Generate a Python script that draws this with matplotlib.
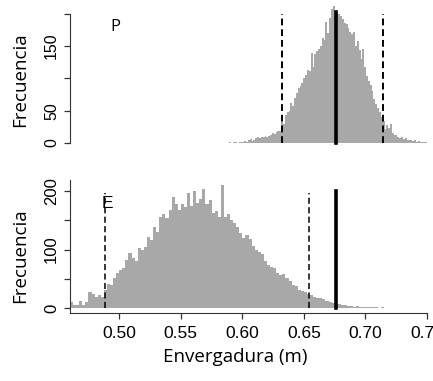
import numpy as np
import matplotlib
matplotlib.use('Agg')
import matplotlib.pyplot as plt

# top panel (P) histogram counts, bins of 0.0015 starting at 0.5895
top_start = 0.5895
top_width = 0.0015
top_counts = [1, 0, 1, 1, 0, 2, 1, 2, 3, 2,
              4, 6, 3, 5, 8, 9, 8, 10, 9, 11,
              10, 11, 13, 15, 14, 17, 19, 18, 33, 30,
              44, 48, 50, 62, 58, 70, 77, 85, 88, 93,
              100, 106, 113, 112, 140, 118, 138, 142, 146, 150,
              162, 160, 188, 170, 194, 208, 212, 205, 203, 200,
              196, 192, 186, 184, 178, 172, 168, 172, 150, 158,
              144, 130, 146, 118, 104, 96, 90, 80, 68, 60,
              54, 48, 40, 34, 22, 28, 24, 30, 16, 13,
              12, 10, 8, 9, 6, 7, 5, 4, 5, 3,
              4, 2, 3, 2, 1, 2, 1, 1]

# bottom panel (E) histogram counts, bins of 0.0025 starting at 0.46
bot_start = 0.46
bot_width = 0.0025
bot_counts = [10, 5, 6, 12, 6, 10, 27, 25, 20, 22,
              20, 32, 42, 40, 52, 60, 65, 68, 82, 94,
              85, 80, 102, 100, 104, 122, 116, 139, 130, 156,
              160, 153, 168, 190, 178, 168, 178, 172, 196, 175,
              199, 180, 186, 204, 178, 185, 163, 165, 155, 210,
              155, 160, 150, 145, 138, 128, 120, 125, 118, 106,
              100, 96, 92, 80, 74, 70, 68, 60, 57, 58,
              52, 46, 40, 38, 32, 30, 27, 24, 22, 20,
              18, 17, 15, 13, 11, 9, 8, 7, 5, 5,
              4, 4, 3, 4, 3, 3, 2, 3, 2, 2,
              1, 2, 1, 1, 1, 1, 1]

# reference lines
top_obs = 0.6764
top_ci = [0.6323, 0.7144]
bot_obs = 0.6764
bot_ci = [0.4886, 0.6545]

x_ticks = [0.50, 0.55, 0.60, 0.65, 0.70, 0.75]
x_labels = ['0.50', '0.55', '0.60', '0.65', '0.70', '0.75']
y_ticks = [0, 50, 100, 150, 200]
top_ylabels = ['0', '50', '', '150', '']
bot_ylabels = ['0', '', '100', '', '200']

bar_col = '#a8a8a8'
axis_col = '#333333'
lab_font = 'Open Sans'
tick_font = 'Liberation Sans'

fig = plt.figure(figsize=(4.33, 3.81), dpi=100)
ax1 = fig.add_axes([0.1617, 0.6102, 0.8245, 0.3885])
ax2 = fig.add_axes([0.1617, 0.178, 0.8245, 0.3496])

top_edges = top_start + top_width * np.arange(len(top_counts) + 1)
bot_edges = bot_start + bot_width * np.arange(len(bot_counts) + 1)

ax1.stairs(top_counts, top_edges, fill=True, color=bar_col, lw=0)
ax2.stairs(bot_counts, bot_edges, fill=True, color=bar_col, lw=0)

for x in top_ci:
    ax1.plot([x, x], [0, 200], color='black', lw=1.4, ls=(0, (3.5, 2)))
ax1.plot([top_obs, top_obs], [0, 202], color='black', lw=2.6)
for x in bot_ci:
    ax2.plot([x, x], [0, 196], color='black', lw=1.1, ls=(0, (4, 2.2)))
ax2.plot([bot_obs, bot_obs], [0, 200], color='black', lw=2.6)

ax1.text(0.4967, 180, 'P', fontsize=12, family=lab_font, ha='center', va='center')
ax2.text(0.4905, 178, 'E', fontsize=12.5, family=tick_font, ha='center', va='center')

ax1.set_xlim(0.46, 0.75)
ax1.set_ylim(-8.5, 220.5)
ax2.set_xlim(0.46, 0.75)
ax2.set_ylim(-8.35, 218.6)

for ax in (ax1, ax2):
    for s in ('top', 'right'):
        ax.spines[s].set_visible(False)
    ax.spines['left'].set_color(axis_col)
    ax.spines['bottom'].set_color(axis_col)
    ax.tick_params(colors=axis_col, length=4.5, width=0.9)
    ax.set_yticks(y_ticks)
    ax.set_ylabel('Frecuencia', fontsize=13.5, family=lab_font, va='center')

ax1.yaxis.set_label_coords(-0.14, 0.463)
ax2.yaxis.set_label_coords(-0.14, 0.43)

ax1.spines['bottom'].set_visible(False)
ax1.spines['left'].set_bounds(0, 200)
ax1.set_xticks([])
ax1.set_yticklabels(top_ylabels, rotation=90, va='center', family=tick_font,
                    color='black', fontsize=11.5)
ax2.set_yticklabels(bot_ylabels, rotation=90, va='center', family=tick_font,
                    color='black', fontsize=12)
ax2.set_xticks(x_ticks)
ax2.set_xticklabels(x_labels, family=tick_font, color='black', fontsize=12.5)
ax2.tick_params(axis='x', pad=5)
ax2.set_xlabel('Envergadura (m)', fontsize=13.5, family=lab_font, va='center')
ax2.xaxis.set_label_coords(0.462, -0.33)

fig.savefig('out.png', dpi=100)
